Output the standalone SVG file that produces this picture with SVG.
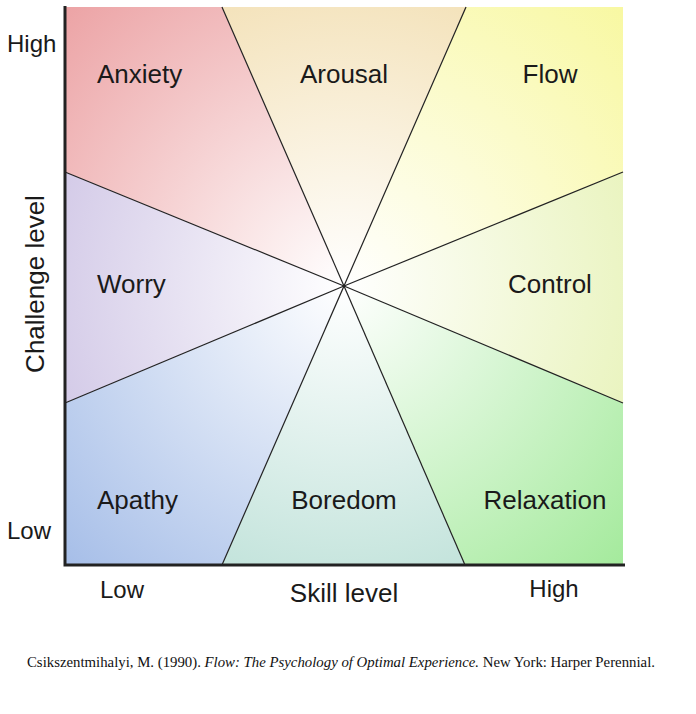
<svg xmlns="http://www.w3.org/2000/svg" width="696" height="714" viewBox="0 0 696 714">
<style>
.lbl{font-family:"Liberation Sans",Arial,sans-serif;font-size:26px;fill:#1a1a1a}
.tick{font-family:"Liberation Sans",Arial,sans-serif;font-size:24px;fill:#1a1a1a}
.cite{font-family:"Liberation Serif","Times New Roman",serif;font-size:14.8px;fill:#111}
.div{stroke:#222;stroke-width:1.2;fill:none}
.axis{stroke:#222;stroke-width:3;fill:none}
</style>
<defs>
<radialGradient id="gAnx" gradientUnits="userSpaceOnUse" cx="344" cy="286" r="395"><stop offset="0" stop-color="#fff"/><stop offset="1" stop-color="#eca3a5"/></radialGradient>
<radialGradient id="gAro" gradientUnits="userSpaceOnUse" cx="344" cy="286" r="300"><stop offset="0" stop-color="#fff"/><stop offset="1" stop-color="#f4e3bc"/></radialGradient>
<radialGradient id="gFlow" gradientUnits="userSpaceOnUse" cx="344" cy="286" r="395"><stop offset="0" stop-color="#fff"/><stop offset="1" stop-color="#f8f8a2"/></radialGradient>
<radialGradient id="gCtl" gradientUnits="userSpaceOnUse" cx="344" cy="286" r="300"><stop offset="0" stop-color="#fff"/><stop offset="1" stop-color="#eaf4c0"/></radialGradient>
<radialGradient id="gRel" gradientUnits="userSpaceOnUse" cx="344" cy="286" r="395"><stop offset="0" stop-color="#fff"/><stop offset="1" stop-color="#a4ea9c"/></radialGradient>
<radialGradient id="gBor" gradientUnits="userSpaceOnUse" cx="344" cy="286" r="300"><stop offset="0" stop-color="#fff"/><stop offset="1" stop-color="#c4e4dc"/></radialGradient>
<radialGradient id="gApa" gradientUnits="userSpaceOnUse" cx="344" cy="286" r="395"><stop offset="0" stop-color="#fff"/><stop offset="1" stop-color="#a6bee8"/></radialGradient>
<radialGradient id="gWor" gradientUnits="userSpaceOnUse" cx="344" cy="286" r="300"><stop offset="0" stop-color="#fff"/><stop offset="1" stop-color="#d4cbe8"/></radialGradient>
</defs>
<rect width="696" height="714" fill="#fff"/>
<g id="anxiety"><polygon points="344,286 65,172 65,7 222,7" fill="url(#gAnx)"/><text class="lbl" x="97" y="83">Anxiety</text></g>
<g id="arousal"><polygon points="344,286 222,7 466,7" fill="url(#gAro)"/><text class="lbl" x="344" y="83" text-anchor="middle">Arousal</text></g>
<g id="flow"><polygon points="344,286 466,7 623,7 623,172" fill="url(#gFlow)"/><text class="lbl" x="550" y="83" text-anchor="middle">Flow</text></g>
<g id="control"><polygon points="344,286 623,172 623,403" fill="url(#gCtl)"/><text class="lbl" x="550" y="293" text-anchor="middle">Control</text></g>
<g id="relaxation"><polygon points="344,286 623,403 623,565 465,565" fill="url(#gRel)"/><text class="lbl" x="545" y="509" text-anchor="middle">Relaxation</text></g>
<g id="boredom"><polygon points="344,286 465,565 222,565" fill="url(#gBor)"/><text class="lbl" x="344" y="509" text-anchor="middle">Boredom</text></g>
<g id="apathy"><polygon points="344,286 222,565 65,565 65,403" fill="url(#gApa)"/><text class="lbl" x="97" y="509">Apathy</text></g>
<g id="worry"><polygon points="344,286 65,403 65,172" fill="url(#gWor)"/><text class="lbl" x="97" y="293">Worry</text></g>
<g id="dividers">
<line class="div" x1="344" y1="286" x2="222" y2="7"/>
<line class="div" x1="344" y1="286" x2="466" y2="7"/>
<line class="div" x1="344" y1="286" x2="623" y2="172"/>
<line class="div" x1="344" y1="286" x2="623" y2="403"/>
<line class="div" x1="344" y1="286" x2="465" y2="565"/>
<line class="div" x1="344" y1="286" x2="222" y2="565"/>
<line class="div" x1="344" y1="286" x2="65" y2="403"/>
<line class="div" x1="344" y1="286" x2="65" y2="172"/>
</g>
<g id="axes">
<polyline class="axis" points="65,6 65,565 625,565"/>
<text class="tick" x="7" y="52">High</text>
<text class="tick" x="7" y="539">Low</text>
<text class="tick" x="100" y="598">Low</text>
<text class="tick" x="554" y="597" text-anchor="middle">High</text>
<text class="lbl" x="344" y="602" text-anchor="middle">Skill level</text>
<text class="lbl" transform="translate(44,284) rotate(-90)" text-anchor="middle">Challenge level</text>
</g>
<text class="cite" x="27" y="667">Csikszentmihalyi, M. (1990). <tspan font-style="italic">Flow: The Psychology of Optimal Experience.</tspan> New York: Harper Perennial.</text>
</svg>
